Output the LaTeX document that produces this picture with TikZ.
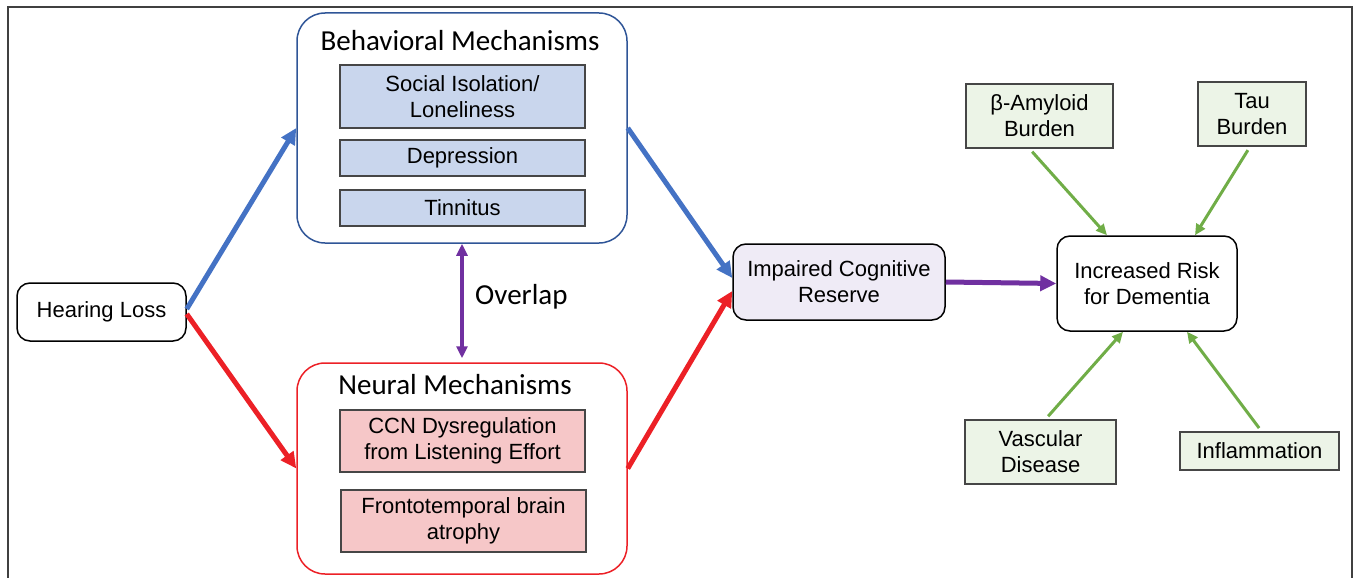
\documentclass[tikz,border=0pt]{standalone}
\usepackage{fontspec}
\setmainfont{Liberation Sans}
\newfontfamily\headfont{Carlito}
\usetikzlibrary{arrows.meta}
\definecolor{framegray}{RGB}{64,64,64}
\definecolor{boxgray}{RGB}{70,70,70}
\definecolor{hlblue}{RGB}{68,114,196}
\definecolor{behavblue}{RGB}{47,85,151}
\definecolor{hlred}{RGB}{236,32,38}
\definecolor{hlpurple}{RGB}{112,48,160}
\definecolor{hlgreen}{RGB}{112,173,71}
\definecolor{itemblue}{RGB}{201,214,237}
\definecolor{itempink}{RGB}{246,199,200}
\definecolor{lavender}{RGB}{239,235,246}
\definecolor{factorgreen}{RGB}{236,244,231}

\begin{document}
\begin{tikzpicture}[x=1pt,y=-1pt,
    every node/.style={font=\fontsize{22}{26}\selectfont, align=center, inner sep=0pt},
    headtext/.style={font=\headfont\fontsize{29}{34}\selectfont},
    mechbox/.style={draw, line width=1.5pt, rounded corners=28pt, minimum width=330pt},
    item/.style={draw=boxgray, line width=1.5pt, minimum width=245pt},
    roundbox/.style={draw=black, line width=1.5pt, rounded corners=13pt},
    factor/.style={draw=boxgray, line width=1.5pt, fill=factorgreen},
    bigarrow/.style={line width=5pt, -{Triangle[length=16pt,width=15pt]}},
    overlaparrow/.style={hlpurple, line width=4pt, {Triangle[length=12pt,width=11pt]}-{Triangle[length=12pt,width=11pt]}},
    riskarrow/.style={hlgreen, line width=3pt, shorten <=4pt, -{Triangle[length=11pt,width=10pt]}}]
    \useasboundingbox (0,0) rectangle (1357,578);
    \draw[framegray, line width=2pt] (8,578) -- (8,7) -- (1352,7) -- (1352,578);

    \node[roundbox, minimum width=169pt, minimum height=58pt] (hl) at (101.5,312) {Hearing Loss};

    % behavioral side
    \node[mechbox, draw=behavblue, minimum height=230pt] (behav) at (462,128) {};
    \node[headtext] (behavtitle) at (460,41) {Behavioral Mechanisms};
    \node[item, fill=itemblue, minimum height=63pt] (social) at (462.5,96.5) {Social Isolation/\\Loneliness};
    \node[item, fill=itemblue, minimum height=36pt] (depr) at (462.5,158) {Depression};
    \node[item, fill=itemblue, minimum height=36pt] (tinn) at (462.5,208) {Tinnitus};

    % neural side
    \node[mechbox, draw=hlred, minimum height=211pt] (neural) at (462,468.5) {};
    \node[headtext] (neuraltitle) at (455,385) {Neural Mechanisms};
    \node[item, fill=itempink, minimum height=62pt] (ccn) at (462.5,441) {CCN Dysregulation\\from Listening Effort};
    \node[item, fill=itempink, minimum height=62pt] (fronto) at (463.5,521) {Frontotemporal brain\\atrophy};

    \node[headtext, anchor=west] (overlap) at (475,297) {Overlap};

    \node[roundbox, fill=lavender, minimum width=212pt, minimum height=76pt] (icr) at (839,282) {Impaired Cognitive\\Reserve};
    \node[roundbox, minimum width=180pt, minimum height=95pt] (risk) at (1147,283.5) {Increased Risk\\for Dementia};

    % risk factors
    \node[factor, minimum width=147pt, minimum height=64pt] (amyloid) at (1039.5,116) {β-Amyloid\\Burden};
    \node[factor, minimum width=108pt, minimum height=64pt] (tau) at (1252,114) {Tau\\Burden};
    \node[factor, minimum width=151pt, minimum height=64pt] (vascular) at (1040.5,452) {Vascular\\Disease};
    \node[factor, minimum width=159pt, minimum height=38pt] (inflam) at (1259.5,451) {Inflammation};

    \draw[bigarrow, hlblue] ([yshift=3pt]hl.east) -- (behav.west);
    \draw[bigarrow, hlred] ([yshift=-2pt]hl.east) -- (neural.west);
    \draw[bigarrow, hlblue] (behav.east) -- ([yshift=4pt]icr.west);
    \draw[bigarrow, hlred] (neural.east) -- ([yshift=-9pt]icr.west);
    \draw[bigarrow, hlpurple] (icr.east) -- (risk.west);
    \draw[overlaparrow] (behav.south) -- ([yshift=4pt]neural.north);

    \draw[riskarrow] ([xshift=-10pt]amyloid.south) -- ([xshift=-40pt]risk.north);
    \draw[riskarrow] ([xshift=-2pt]tau.south) -- ([xshift=48pt]risk.north);
    \draw[riskarrow] ([xshift=5pt]vascular.north) -- ([xshift=-24pt]risk.south);
    \draw[riskarrow] ([xshift=2pt]inflam.north) -- ([xshift=40pt]risk.south);
\end{tikzpicture}
\end{document}
